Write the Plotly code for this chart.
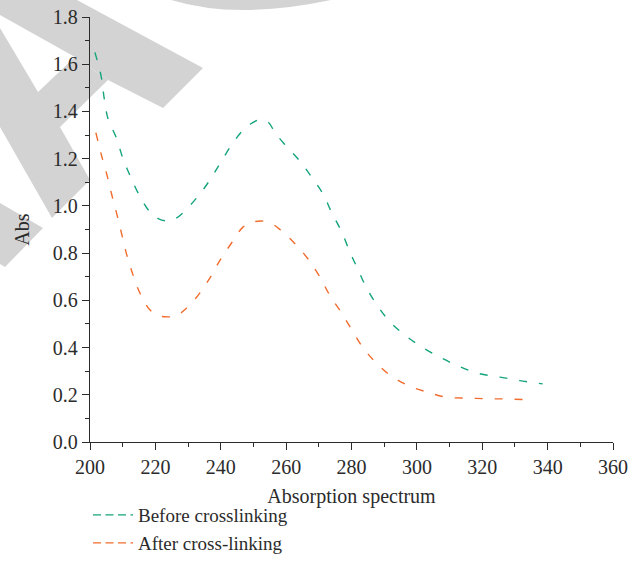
import plotly.graph_objects as go

# ---------------- data ----------------
before_x = [201.5, 203.4, 204.3, 205.5, 208.0, 210.1, 212.2, 214.7, 218.3, 221.0, 223.9,
            226.0, 228.4, 233.0, 236.7, 239.8, 243.4, 246.8, 249.5, 252.0, 254.5, 256.6, 259.6,
            264.2, 267.9, 271.3, 274.0, 277.0, 279.5, 282.0, 284.7, 287.8, 291.7, 296.6,
            301.8, 307.6, 313.0, 319.0, 325.4, 331.5, 338.5]
before_y = [1.65, 1.55, 1.46, 1.37, 1.29, 1.20, 1.13, 1.055, 0.975, 0.945, 0.936,
            0.945, 0.97, 1.04, 1.11, 1.18, 1.26, 1.32, 1.35, 1.365, 1.355, 1.31, 1.26,
            1.19, 1.12, 1.05, 0.97, 0.89, 0.805, 0.73, 0.65, 0.58, 0.51, 0.45,
            0.40, 0.355, 0.32, 0.29, 0.275, 0.26, 0.246]

after_x = [201.8, 203.4, 205.2, 206.7, 208.3, 209.8, 211.3, 213.1, 215.3, 218.3, 221.0, 223.9,
           226.5, 229.0, 233.0, 236.7, 239.8, 243.4, 246.8, 249.5, 252.6, 255.5, 258.1,
           262.7, 266.7, 270.3, 273.4, 276.8, 280.1, 283.5, 287.2, 291.7, 297.2,
           303.0, 309.0, 315.6, 322.3, 328.4, 335.5]
after_y = [1.31, 1.22, 1.13, 1.045, 0.96, 0.875, 0.79, 0.71, 0.63, 0.56, 0.535, 0.53,
           0.535, 0.56, 0.62, 0.695, 0.77, 0.845, 0.91, 0.93, 0.936, 0.925, 0.90,
           0.84, 0.775, 0.70, 0.62, 0.55, 0.475, 0.40, 0.34, 0.284, 0.24,
           0.212, 0.19, 0.186, 0.183, 0.182, 0.178]

series_names = ["Before crosslinking", "After cross-linking"]
series_colors = ["#14a47c", "#f26c2e"]

x_ticks = [200, 220, 240, 260, 280, 300, 320, 340, 360]
y_ticks = [0.0, 0.2, 0.4, 0.6, 0.8, 1.0, 1.2, 1.4, 1.6, 1.8]
y_tick_labels = ["0.0", "0.2", "0.4", "0.6", "0.8", "1.0", "1.2", "1.4", "1.6", "1.8"]

# ---------------- layout geometry ----------------
W, H = 640, 580
ML, MR, MT, MB = 90, 27, 17, 138
PW, PH = W - ML - MR, H - MT - MB

def px(xp, yp):
    return (xp - ML) / PW, 1 - (yp - MT) / PH

def poly(points):
    pts = [px(a, b) for a, b in points]
    return "M " + " L ".join(f"{a:.4f},{b:.4f}" for a, b in pts) + " Z"

FONT = "Liberation Serif"
TXT = "#2b2b2b"

fig = go.Figure()

for xs, ys, name, col, lg in [(before_x, before_y, series_names[0], series_colors[0], "legend"),
                              (after_x, after_y, series_names[1], series_colors[1], "legend2")]:
    fig.add_trace(go.Scatter(
        x=xs, y=ys, mode="lines", name=name, showlegend=False,
        line=dict(color=col, width=1.4, dash="8px,12px", shape="spline", smoothing=1.0),
    ))
    # legend entry (same series style, tighter dash as in the reference key)
    fig.add_trace(go.Scatter(
        x=[None], y=[None], mode="lines", name=name, legend=lg,
        line=dict(color=col, width=1.4, dash="8px,4.5px"),
    ))

# watermark (grey publisher mark)
wm = "#d3d3d3"
shapes = [
    dict(type="path", path=poly([(0, 0), (77, 0), (203, 68), (163, 108), (108, 80), (75, 57), (0, 15)])),
    dict(type="path", path=poly([(75, 57), (108, 80), (60, 127), (90, 180), (52, 218), (0, 127), (0, 28), (38, 92)])),
    dict(type="path", path=poly([(0, 203), (43, 228), (5, 267), (0, 264)])),
]
a0 = px(165, -2); a1 = px(235, 22); a2 = px(340, -2)
shapes.append(dict(type="path",
                   path=f"M {a0[0]:.4f},{a0[1]:.4f} Q {a1[0]:.4f},{a1[1]:.4f} {a2[0]:.4f},{a2[1]:.4f} Z"))
for s in shapes:
    s.update(xref="paper", yref="paper", fillcolor=wm, line=dict(width=0), layer="below")

axis_common = dict(
    showgrid=False, zeroline=False, showline=True, linecolor=TXT, linewidth=1.3,
    ticks="outside", ticklen=7, tickwidth=1.2, tickcolor=TXT,
    tickfont=dict(family=FONT, size=20, color=TXT),
    minor=dict(ticks="outside", ticklen=4, tickwidth=1.1, tickcolor=TXT),
)

fig.update_layout(
    width=W, height=H,
    margin=dict(l=ML, r=MR, t=MT, b=MB, autoexpand=False),
    paper_bgcolor="white", plot_bgcolor="rgba(0,0,0,0)",
    font=dict(family=FONT, color=TXT),
    shapes=shapes,
    xaxis=dict(axis_common, range=[200, 360], tickvals=x_ticks, minor=dict(axis_common["minor"], dtick=10),
               title=dict(text="Absorption spectrum", font=dict(family=FONT, size=20, color=TXT), standoff=11)),
    yaxis=dict(axis_common, range=[0, 1.8], tickvals=y_ticks, ticktext=y_tick_labels,
               minor=dict(axis_common["minor"], dtick=0.1),
               title=dict(text="Abs", font=dict(family=FONT, size=20, color=TXT), standoff=17)),
    legend=dict(x=px(88, 0)[0], y=px(0, 515)[1], xanchor="left", yanchor="middle",
                bgcolor="rgba(0,0,0,0)", font=dict(family=FONT, size=19, color=TXT), itemwidth=40),
    legend2=dict(x=px(88, 0)[0], y=px(0, 543)[1], xanchor="left", yanchor="middle",
                 bgcolor="rgba(0,0,0,0)", font=dict(family=FONT, size=19, color=TXT), itemwidth=40),
)

fig.write_html("out.html", config={"displayModeBar": False},
               post_script="document.body.style.margin='0px';document.documentElement.style.overflow='hidden';")
